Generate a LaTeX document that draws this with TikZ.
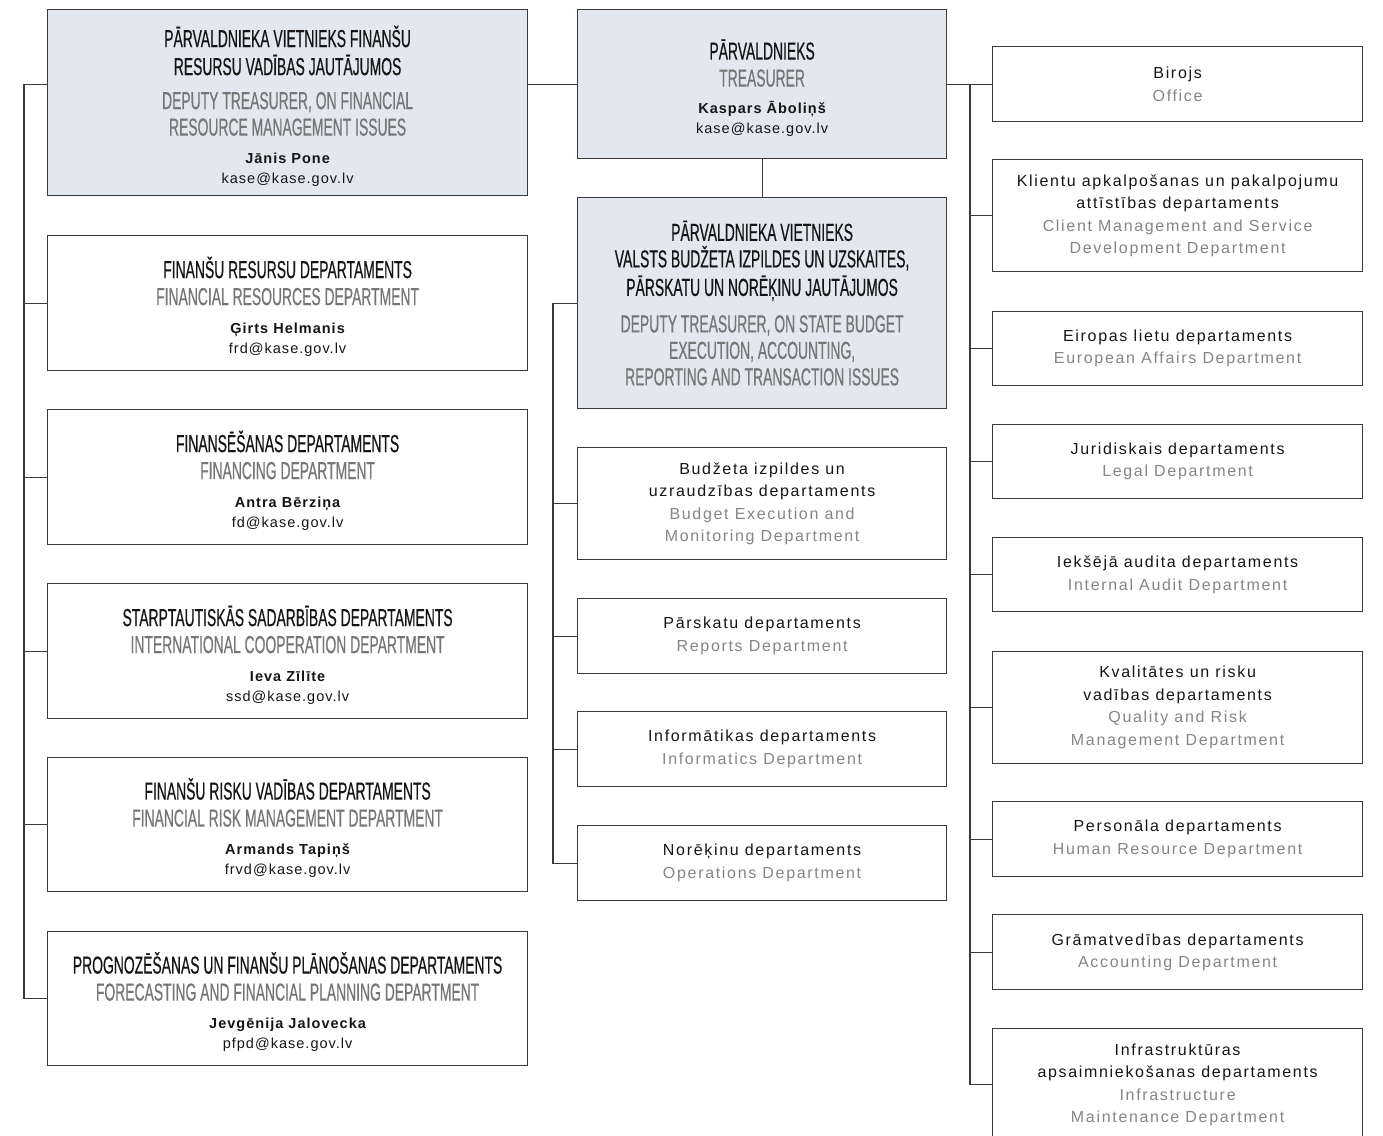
\documentclass[tikz,border=0pt]{standalone}
\usepackage{fontspec}
\setmainfont{Liberation Sans}
\newfontfamily\hdfont{Liberation Sans}[FakeStretch=0.565,FakeBold=0.5]
\newfontfamily\bodyfont{Liberation Sans}[LetterSpace=10.5]
\newfontfamily\smallfont{Liberation Sans}[LetterSpace=7]
\definecolor{boxc}{HTML}{3A3A3A}
\definecolor{linec}{HTML}{3A3A3A}
\definecolor{hdfill}{HTML}{E3E8EF}
\definecolor{txt}{HTML}{151515}
\definecolor{hdgray}{HTML}{767676}
\definecolor{engray}{HTML}{858585}
\newcommand\hd[1]{{\hdfont\fontsize{24.6}{27}\selectfont #1}}
\newcommand\hdg[1]{{\hdfont\fontsize{24.6}{27}\selectfont\color{hdgray}#1}}
\newcommand\en[1]{{\color{engray}#1}}
\newcommand\who[1]{{\smallfont\fontsize{14.5}{20}\selectfont\bfseries #1}}
\newcommand\mail[1]{{\smallfont\fontsize{14.5}{20}\selectfont #1}}
\newcommand\topstrut{\rule{0pt}{28pt}}
\tikzset{
  box/.style={draw=boxc, line width=1.2pt, inner sep=0pt, anchor=north west,
    align=center, text=txt, font=\bodyfont\fontsize{16}{22.5}\selectfont},
  headbox/.style={box, fill=hdfill},
  conn/.style={draw=linec, line width=1.2pt},
}
\begin{document}
\begin{tikzpicture}[x=1pt,y=-1pt]
\useasboundingbox (0,0) rectangle (1383,1135);
% left column
\node[headbox, minimum width=480, minimum height=186] (L0) at (47,9) {%
  \topstrut\hd{PĀRVALDNIEKA VIETNIEKS FINANŠU}\\[5.5pt]
  \hd{RESURSU VADĪBAS JAUTĀJUMOS}\\[11.5pt]
  \hdg{DEPUTY TREASURER, ON FINANCIAL}\\[4pt]
  \hdg{RESOURCE MANAGEMENT ISSUES}\\[5pt]
  \who{Jānis Pone}\\[-2.5pt]
  \mail{kase@kase.gov.lv}};
\node[box, minimum width=480, minimum height=135] (L1) at (47,235) {%
  \topstrut\hd{FINANŠU RESURSU DEPARTAMENTS}\\[4.5pt]
  \hdg{FINANCIAL RESOURCES DEPARTMENT}\\[5.5pt]
  \who{Ģirts Helmanis}\\[-2.5pt]
  \mail{frd@kase.gov.lv}};
\node[box, minimum width=480, minimum height=135] (L2) at (47,409) {%
  \topstrut\hd{FINANSĒŠANAS DEPARTAMENTS}\\[4.5pt]
  \hdg{FINANCING DEPARTMENT}\\[5.5pt]
  \who{Antra Bērziņa}\\[-2.5pt]
  \mail{fd@kase.gov.lv}};
\node[box, minimum width=480, minimum height=135] (L3) at (47,583) {%
  \topstrut\hd{STARPTAUTISKĀS SADARBĪBAS DEPARTAMENTS}\\[4.5pt]
  \hdg{INTERNATIONAL COOPERATION DEPARTMENT}\\[5.5pt]
  \who{Ieva Zīlīte}\\[-2.5pt]
  \mail{ssd@kase.gov.lv}};
\node[box, minimum width=480, minimum height=134] (L4) at (47,757) {%
  \topstrut\hd{FINANŠU RISKU VADĪBAS DEPARTAMENTS}\\[4.5pt]
  \hdg{FINANCIAL RISK MANAGEMENT DEPARTMENT}\\[5.5pt]
  \who{Armands Tapiņš}\\[-2.5pt]
  \mail{frvd@kase.gov.lv}};
\node[box, minimum width=480, minimum height=134] (L5) at (47,931) {%
  \topstrut\hd{PROGNOZĒŠANAS UN FINANŠU PLĀNOŠANAS DEPARTAMENTS}\\[4.5pt]
  \hdg{FORECASTING AND FINANCIAL PLANNING DEPARTMENT}\\[5.5pt]
  \who{Jevgēnija Jalovecka}\\[-2.5pt]
  \mail{pfpd@kase.gov.lv}};
% middle column
\node[headbox, minimum width=369, minimum height=149] (T) at (577,9) {%
  \topstrut\hd{PĀRVALDNIEKS}\\[4.5pt]
  \hdg{TREASURER}\\[4.5pt]
  \who{Kaspars Āboliņš}\\[-2.5pt]
  \mail{kase@kase.gov.lv}};
\node[headbox, minimum width=369, minimum height=211] (D2) at (577,197) {%
  \hd{PĀRVALDNIEKA VIETNIEKS}\\[4pt]
  \hd{VALSTS BUDŽETA IZPILDES UN UZSKAITES,}\\[4pt]
  \hd{PĀRSKATU UN NORĒĶINU JAUTĀJUMOS}\\[14pt]
  \hdg{DEPUTY TREASURER, ON STATE BUDGET}\\[4pt]
  \hdg{EXECUTION, ACCOUNTING,}\\[4pt]
  \hdg{REPORTING AND TRANSACTION ISSUES}};
\node[box, minimum width=369, minimum height=112] (M1) at (577,447) {%
  Budžeta izpildes un\\ uzraudzības departaments\\
  \en{Budget Execution and}\\ \en{Monitoring Department}};
\node[box, minimum width=369, minimum height=75] (M2) at (577,598) {%
  Pārskatu departaments\\ \en{Reports Department}};
\node[box, minimum width=369, minimum height=75] (M3) at (577,711) {%
  Informātikas departaments\\ \en{Informatics Department}};
\node[box, minimum width=369, minimum height=75] (M4) at (577,825) {%
  Norēķinu departaments\\ \en{Operations Department}};
% right column
\node[box, minimum width=370, minimum height=75] (R0) at (992,46) {%
  Birojs\\ \en{Office}};
\node[box, minimum width=370, minimum height=112] (R1) at (992,159) {%
  Klientu apkalpošanas un pakalpojumu\\ attīstības departaments\\
  \en{Client Management and Service}\\ \en{Development Department}};
\node[box, minimum width=370, minimum height=74] (R2) at (992,311) {%
  Eiropas lietu departaments\\ \en{European Affairs Department}};
\node[box, minimum width=370, minimum height=74] (R3) at (992,424) {%
  Juridiskais departaments\\ \en{Legal Department}};
\node[box, minimum width=370, minimum height=74] (R4) at (992,537) {%
  Iekšējā audita departaments\\ \en{Internal Audit Department}};
\node[box, minimum width=370, minimum height=112] (R5) at (992,651) {%
  Kvalitātes un risku\\ vadības departaments\\
  \en{Quality and Risk}\\ \en{Management Department}};
\node[box, minimum width=370, minimum height=75] (R6) at (992,801) {%
  Personāla departaments\\ \en{Human Resource Department}};
\node[box, minimum width=370, minimum height=75] (R7) at (992,914) {%
  Grāmatvedības departaments\\ \en{Accounting Department}};
\node[box, minimum width=370, minimum height=112] (R8) at (992,1028) {%
  Infrastruktūras\\ apsaimniekošanas departaments\\
  \en{Infrastructure}\\ \en{Maintenance Department}};
% bus coordinates
\coordinate (lbx) at (24,0);
\coordinate (mbx) at (553,0);
\coordinate (rbx) at (970,0);
% connectors
\draw[conn] (T.west) -- (T.west -| L0.east);
\draw[conn] (T.west -| L0.west) -- (T.west -| lbx) |- (L5.west);
\foreach \n in {L1,L2,L3,L4} \draw[conn] (\n.west) -- (\n.west -| lbx);
\draw[conn] (T.south) -- (D2.north);
\draw[conn] (D2.west) -- (D2.west -| mbx) |- (M4.west);
\foreach \n in {M1,M2,M3} \draw[conn] (\n.west) -- (\n.west -| mbx);
\draw[conn] (T.east) -- (R0.west);
\draw[conn] (T.east -| rbx) |- (R8.west);
\foreach \n in {R1,R2,R3,R4,R5,R6,R7} \draw[conn] (\n.west) -- (\n.west -| rbx);
\end{tikzpicture}
\end{document}
